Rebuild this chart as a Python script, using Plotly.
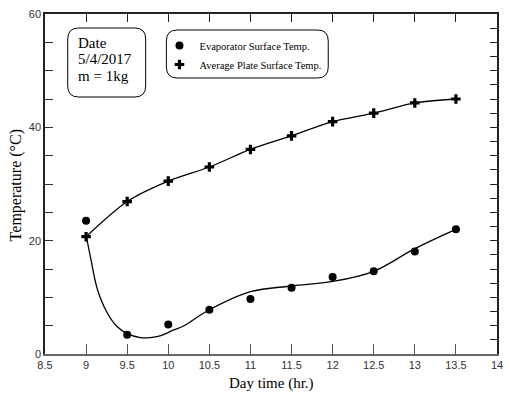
import plotly.graph_objects as go

# ---- data ----
hours = [9.0, 9.5, 10.0, 10.5, 11.0, 11.5, 12.0, 12.5, 13.0, 13.5]
evap_temp = [23.5, 3.4, 5.2, 7.8, 9.7, 11.7, 13.6, 14.6, 18.1, 22.0]
plate_temp = [20.7, 26.9, 30.5, 33.0, 36.1, 38.5, 41.0, 42.5, 44.3, 45.0]

# fitted curve through the evaporator data (knots)
evap_fit_x = [9.0, 9.06, 9.14, 9.26, 9.38, 9.5, 9.66, 9.78, 9.9, 10.06, 10.18,
              10.5, 11.0, 11.5, 12.0, 12.5, 13.0, 13.5]
evap_fit_y = [21.0, 16.6, 11.3, 7.2, 4.8, 3.6, 2.9, 2.9, 3.2, 4.2, 4.9,
              7.8, 11.0, 12.0, 12.8, 14.6, 18.6, 22.0]

x_ticks = [8.5, 9, 9.5, 10, 10.5, 11, 11.5, 12, 12.5, 13, 13.5, 14]
x_tick_labels = ["8.5", "9", "9.5", "10", "10.5", "11", "11.5", "12", "12.5", "13", "13.5", "14"]
y_ticks = [0, 20, 40, 60]

names = ["Evaporator Surface Temp.", "Average Plate Surface Temp."]
info_lines = ["Date", "5/4/2017", "m = 1kg"]

SERIF = "Liberation Serif, Times New Roman, serif"
SANS = "Liberation Sans, Arial, sans-serif"

fig = go.Figure()

fig.add_trace(go.Scatter(x=evap_fit_x, y=evap_fit_y, mode="lines",
                         line=dict(color="black", width=1.3, shape="spline", smoothing=1.0),
                         showlegend=False, hoverinfo="skip"))
fig.add_trace(go.Scatter(x=hours, y=plate_temp, mode="lines",
                         line=dict(color="black", width=1.3, shape="spline", smoothing=0.8),
                         showlegend=False, hoverinfo="skip"))
fig.add_trace(go.Scatter(x=hours, y=evap_temp, mode="markers", name=names[0],
                         marker=dict(symbol="circle", size=8, color="black")))
fig.add_trace(go.Scatter(x=hours, y=plate_temp, mode="markers", name=names[1],
                         marker=dict(symbol="cross", size=8, color="black")))

# invisible helper trace for the mirrored top / right axes
fig.add_trace(go.Scatter(x=[8.5, 14], y=[0, 60], mode="markers", marker=dict(opacity=0),
                         xaxis="x2", yaxis="y2", showlegend=False, hoverinfo="skip"))


def rounded_box(x0, y0, x1, y1, rx, ry):
    return (f"M {x0+rx},{y0} L {x1-rx},{y0} Q {x1},{y0} {x1},{y0+ry} "
            f"L {x1},{y1-ry} Q {x1},{y1} {x1-rx},{y1} "
            f"L {x0+rx},{y1} Q {x0},{y1} {x0},{y1-ry} "
            f"L {x0},{y0+ry} Q {x0},{y0} {x0+rx},{y0} Z")

PW, PH = 458.0, 340.0
def px(xp):
    return (xp - 45) / PW
def py(yp):
    return (354 - yp) / PH

rx, ry = 11 / PW, 11 / PH
shapes = [
    dict(type="path", xref="paper", yref="paper",
         path=rounded_box(px(68), py(97), px(147), py(28), rx, ry),
         line=dict(color="black", width=1), fillcolor="rgba(0,0,0,0)"),
    dict(type="path", xref="paper", yref="paper",
         path=rounded_box(px(168), py(78), px(332), py(30), rx, ry),
         line=dict(color="black", width=1), fillcolor="rgba(0,0,0,0)"),
]

annotations = []
for i, t in enumerate(info_lines):
    annotations.append(dict(text=t, xref="paper", yref="paper", x=px(76), y=py(43 + 16.5 * i),
                            xanchor="left", yanchor="middle", showarrow=False,
                            font=dict(family=SERIF, size=15, color="black")))
annotations.append(dict(text="Day time (hr.)", xref="paper", yref="paper", x=0.5, y=py(383),
                        xanchor="center", yanchor="middle", showarrow=False,
                        font=dict(family=SERIF, size=15, color="black")))
annotations.append(dict(text="Temperature (°C)", xref="paper", yref="paper", x=px(16), y=py(185),
                        xanchor="center", yanchor="middle", showarrow=False, textangle=-90,
                        font=dict(family=SERIF, size=16, color="black")))

fig.update_layout(
    width=510, height=396,
    margin=dict(l=45, r=7, t=14, b=42),
    paper_bgcolor="white", plot_bgcolor="white",
    showlegend=True,
    legend=dict(x=px(161), y=py(31), xanchor="left", yanchor="top",
                bgcolor="rgba(0,0,0,0)", borderwidth=0,
                font=dict(family=SERIF, size=10.5, color="black"),
                tracegroupgap=0, itemwidth=30),
    xaxis=dict(range=[8.5, 14], tickvals=x_ticks, ticktext=x_tick_labels,
               ticks="inside", ticklen=10, tickcolor="#555", tickwidth=1,
               showline=True, linecolor="#666", linewidth=1.5, showgrid=False, zeroline=False,
               tickfont=dict(family=SANS, size=11, color="#333")),
    yaxis=dict(range=[0, 60], tickvals=y_ticks, ticks="inside", ticklen=8, tickcolor="#333",
               showline=True, linecolor="#222", linewidth=1.5, showgrid=False, zeroline=False,
               minor=dict(dtick=5, ticks="inside", ticklen=8, tickcolor="#333"),
               tickfont=dict(family=SANS, size=11, color="#333")),
    xaxis2=dict(range=[8.5, 14], overlaying="x", side="top", dtick=0.5, tick0=8.5,
                ticks="inside", ticklen=8, tickcolor="#222", showticklabels=False,
                showline=True, linecolor="#222", linewidth=1.5, showgrid=False, zeroline=False),
    yaxis2=dict(range=[0, 60], overlaying="y", side="right", dtick=2.5, tick0=0,
                ticks="inside", ticklen=7, tickcolor="#222", showticklabels=False,
                showline=True, linecolor="#222", linewidth=1.5, showgrid=False, zeroline=False),
    shapes=shapes,
    annotations=annotations,
)

fig.write_html("out.html")
